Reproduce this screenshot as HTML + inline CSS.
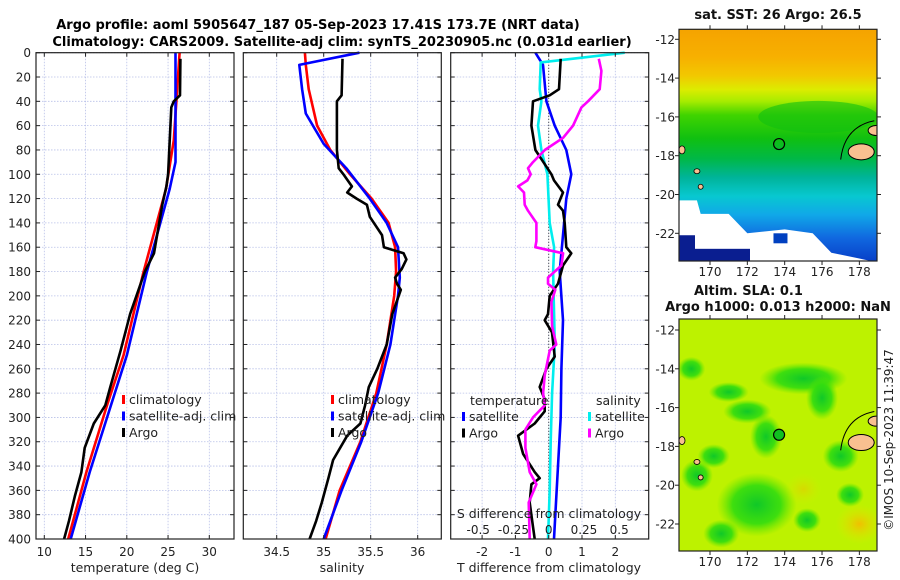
<!DOCTYPE html>
<html><head><meta charset="utf-8">
<style>
html,body{margin:0;padding:0;background:#fff;}
svg{display:block;font-family:"DejaVu Sans","Liberation Sans",sans-serif;}
</style></head>
<body>
<svg id="fig" width="900" height="580" viewBox="0 0 900 580" xmlns="http://www.w3.org/2000/svg">
<text x="318" y="29" text-anchor="middle" font-size="13" font-weight="bold">Argo profile: aoml 5905647_187 05-Sep-2023 17.41S 173.7E (NRT data)</text>
<text x="342" y="46" text-anchor="middle" font-size="13" font-weight="bold">Climatology: CARS2009. Satellite-adj clim: synTS_20230905.nc (0.031d earlier)</text>
<g id="plots"></g>
<g id="maps"></g>
<text transform="translate(893,440) rotate(-90)" text-anchor="middle" font-size="12" fill="#222">©IMOS 10-Sep-2023 11:39:47</text>
</svg>
<script>
// ---- data ----
const depthTicks=[0,20,40,60,80,100,120,140,160,180,200,220,240,260,280,300,320,340,360,380,400];
const tTicks=[10,15,20,25,30];
const sTicks=[34.5,35,35.5,36];
const dtTicks=[-2,-1,0,1,2];
const dsTicks=[-0.5,-0.25,0,0.25,0.5];
const dsTickLabels=["-0.5","-0.25","0","0.25","0.5"];

const climTDepth=[0,72,112,181,249,290,345,400];
const climTVal=[26.4,25.7,24.75,22,19.6,17.6,15.1,12.9];
const satTDepth=[0,90,112,181,249,345,400];
const satTVal=[25.9,25.9,25.2,22.4,20,15.5,13.2];
const argoTDepth=[5,35,40,45,100,110,125,165,180,215,245,275,290,305,325,345,365,385,400];
const argoTVal=[26.5,26.45,25.7,25.4,25.0,24.8,24.3,23.3,22.2,20.4,19.25,18,17.4,16,14.9,14.5,13.7,13,12.4];

const climSDepth=[0,10,30,60,80,100,120,140,160,180,200,240,280,320,360,400];
const climSVal=[34.80,34.81,34.84,34.93,35.07,35.28,35.51,35.69,35.76,35.77,35.75,35.67,35.56,35.39,35.17,35.02];
const satSDepth=[0,10,30,50,75,95,120,140,160,185,200,240,280,320,360,400];
const satSVal=[35.38,34.74,34.77,34.81,35.0,35.24,35.49,35.67,35.79,35.81,35.79,35.71,35.58,35.4,35.19,35.0];
const argoSDepth=[5,35,40,80,95,100,110,115,120,125,135,150,160,165,170,178,185,190,195,215,240,260,275,290,305,315,335,350,370,385,400];
const argoSVal=[35.2,35.19,35.14,35.14,35.16,35.21,35.3,35.25,35.35,35.46,35.49,35.62,35.64,35.85,35.88,35.83,35.76,35.78,35.82,35.73,35.67,35.57,35.48,35.44,35.39,35.25,35.1,35.05,34.98,34.92,34.85];

const satDTDepth=[0,10,40,60,80,100,120,150,180,220,260,300,340,400];
const satDTVal=[-0.4,-0.17,-0.07,0.18,0.53,0.68,0.53,0.43,0.33,0.43,0.38,0.36,0.28,0.16];
const argoDTDepth=[5,30,35,40,60,80,95,100,105,115,125,130,140,160,165,175,190,200,215,220,230,250,260,275,285,295,305,315,330,345,350,355,370,390,400];
const argoDTVal=[0.36,0.31,0.03,-0.47,-0.52,-0.4,-0.04,0.08,0.16,0.43,0.28,0.43,0.48,0.53,0.68,0.43,0.28,0.03,-0.02,-0.12,0.1,0.18,-0.07,-0.27,-0.12,-0.12,-0.42,-0.92,-0.77,-0.42,-0.27,-0.52,-0.57,-0.47,-0.42];
const satDSDepth=[0,8,30,40,60,80,100,140,160,180,240,280,320,360,400];
const satDSVal=[0.539,-0.057,-0.064,-0.052,-0.076,-0.052,-0.009,0.007,0.038,0.031,0.043,0.024,0.014,0.007,-0.005];
const argoDSDepth=[5,15,30,40,45,60,70,80,90,95,100,105,110,115,125,130,140,155,160,165,175,185,190,195,205,225,240,245,265,280,290,300,310,325,345,355,370,400];
const argoDSVal=[0.355,0.374,0.362,0.279,0.232,0.173,0.102,-0.028,-0.111,-0.147,-0.128,-0.151,-0.217,-0.175,-0.170,-0.147,-0.087,-0.087,-0.095,0.102,0.09,-0.005,-0.005,0.047,0.019,0.024,0.054,0.007,-0.028,-0.04,-0.028,-0.111,-0.165,-0.165,-0.135,-0.087,-0.142,-0.135];

const mapLonTicks=[170,172,174,176,178];
const mapLatTicks=[-12,-14,-16,-18,-20,-22];
const argoLon=173.7, argoLat=-17.4;

// ---- helpers ----
const NS="http://www.w3.org/2000/svg";
function mk(tag,attrs,parent){const e=document.createElementNS(NS,tag);for(const k in attrs)e.setAttribute(k,attrs[k]);parent.appendChild(e);return e;}
const Y0=52.7,Y1=539;
const yD=d=>Y0+d*(Y1-Y0)/400;
const xT=t=>44.3+(t-10)*8.25;
const xS=s=>276.7+(s-34.5)*94;
const xDT=v=>548.7+v*33.3;
const xDS=v=>548.7+v*141;
const plots=document.getElementById('plots');

function panel(name,x0,x1,xTicks,xf){
  const g=mk('g',{},plots);
  
  
  depthTicks.forEach(d=>{const l=mk('line',{x1:x0,x2:x1,y1:yD(d),y2:yD(d),stroke:'#b8c0e8','stroke-width':0.8,'stroke-dasharray':'1.5,1.5'},g);
    });
  xTicks.forEach(t=>{const l=mk('line',{x1:xf(t),x2:xf(t),y1:Y0,y2:Y1,stroke:'#b8c0e8','stroke-width':0.8,'stroke-dasharray':'1.5,1.5'},g);
    });
  return g;
}
function frame(g,x0,x1,xTicks,xf,labels,xlabel,xlabelX,name){
  const r=mk('rect',{x:x0,y:Y0,width:x1-x0,height:Y1-Y0,fill:'none',stroke:'#222','stroke-width':1.2},g);
  
  depthTicks.forEach(d=>{mk('line',{x1:x0,x2:x0+4,y1:yD(d),y2:yD(d),stroke:'#222'},g);mk('line',{x1:x1,x2:x1-4,y1:yD(d),y2:yD(d),stroke:'#222'},g);});
  xTicks.forEach((t,i)=>{mk('line',{x1:xf(t),x2:xf(t),y1:Y1,y2:Y1-4,stroke:'#222'},g);mk('line',{x1:xf(t),x2:xf(t),y1:Y0,y2:Y0+4,stroke:'#222'},g);
    const tx=mk('text',{x:xf(t),y:556,'text-anchor':'middle','font-size':12,fill:'#222'},g);tx.textContent=labels[i];
    });
  const xl=mk('text',{x:xlabelX,y:572,'text-anchor':'middle','font-size':12.5,fill:'#222'},g);xl.textContent=xlabel;
  
}
function line(g,depths,vals,xf,color,name){
  const pts=depths.map((d,i)=>xf(vals[i]).toFixed(1)+','+yD(d).toFixed(1)).join(' ');
  const p=mk('polyline',{points:pts,fill:'none',stroke:color,'stroke-width':2.6,'stroke-linejoin':'round'},g);
  
}
function legend(g,x,y,items){
  items.forEach((it,i)=>{
    if(it.c){const m=mk('rect',{x:x,y:y+i*16.5-9,width:3,height:9,fill:it.c},g);}
    const t=mk('text',{x:x+(it.c?7:0),y:y+i*16.5,'font-size':12.5,fill:'#222'},g);t.textContent=it.t;
    
  });
}

let g=panel('temperature',36,234,tTicks,xT);
line(g,climTDepth,climTVal,xT,'#f00','climatology-temperature-line');
line(g,satTDepth,satTVal,xT,'#00f','satellite-temperature-line');
line(g,argoTDepth,argoTVal,xT,'#000','argo-temperature-line');
legend(g,122,404,[{c:'#f00',t:'climatology'},{c:'#00f',t:'satellite-adj. clim'},{c:'#000',t:'Argo'}]);
frame(g,36,234,tTicks,xT,tTicks.map(String),'temperature (deg C)',135,'temperature');
depthTicks.forEach(d=>{const t=mk('text',{x:31,y:yD(d)+4.5,'text-anchor':'end','font-size':12,fill:'#222'},g);t.textContent=d;
  });

g=panel('salinity',243.3,441.3,sTicks,xS);
line(g,climSDepth,climSVal,xS,'#f00','climatology-salinity-line');
line(g,satSDepth,satSVal,xS,'#00f','satellite-salinity-line');
line(g,argoSDepth,argoSVal,xS,'#000','argo-salinity-line');
legend(g,331,404,[{c:'#f00',t:'climatology'},{c:'#00f',t:'satellite-adj. clim'},{c:'#000',t:'Argo'}]);
frame(g,243.3,441.3,sTicks,xS,sTicks.map(String),'salinity',342,'salinity');

g=panel('difference',450.7,648.7,dtTicks,xDT);
const zl=mk('line',{x1:xDT(0),x2:xDT(0),y1:Y0,y2:Y1,stroke:'#333','stroke-width':1,'stroke-dasharray':'1,2'},g);

line(g,satDTDepth,satDTVal,xDT,'#00f','satellite-temperature-diff-line');
line(g,satDSDepth,satDSVal,xDS,'#0ee','satellite-salinity-diff-line');
line(g,argoDTDepth,argoDTVal,xDT,'#000','argo-temperature-diff-line');
line(g,argoDSDepth,argoDSVal,xDS,'#f0f','argo-salinity-diff-line');
legend(g,470,405,[{t:'temperature'}]);
legend(g,462,421,[{c:'#00f',t:'satellite'},{c:'#000',t:'Argo'}]);
legend(g,596,405,[{t:'salinity'}]);
legend(g,588,421,[{c:'#0ee',t:'satellite'},{c:'#f0f',t:'Argo'}]);
let st=mk('text',{x:549,y:518,'text-anchor':'middle','font-size':12.5,fill:'#222'},g);st.textContent='S difference from climatology';

dsTicks.forEach((v,i)=>{const t=mk('text',{x:xDS(v),y:534,'text-anchor':'middle','font-size':12,fill:'#222'},g);t.textContent=dsTickLabels[i];
  });
frame(g,450.7,648.7,dtTicks,xDT,dtTicks.map(String),'T difference from climatology',549,'difference');

// ---- maps ----
const maps=document.getElementById('maps');
const defs=mk('defs',{},maps);
const sst=mk('linearGradient',{id:'sstg',x1:0,y1:0,x2:0,y2:1},defs);
[[0,'#f5a300'],[0.12,'#f7b000'],[0.2,'#f2c800'],[0.26,'#dcec00'],[0.31,'#a8ec00'],[0.37,'#40d400'],[0.47,'#10c010'],[0.56,'#00b848'],[0.64,'#00b49a'],[0.72,'#08c8d0'],[0.8,'#10a8e8'],[0.9,'#1068e0'],[1,'#0840c8']].forEach(s=>mk('stop',{offset:s[0],'stop-color':s[1]},sst));
const rg=mk('radialGradient',{id:'blob'},defs);
mk('stop',{offset:0,'stop-color':'#10c828'},rg);mk('stop',{offset:0.6,'stop-color':'#30dc10','stop-opacity':0.9},rg);mk('stop',{offset:1,'stop-color':'#60e400','stop-opacity':0},rg);
const rg2=mk('radialGradient',{id:'yblob'},defs);
mk('stop',{offset:0,'stop-color':'#f0c000'},rg2);mk('stop',{offset:1,'stop-color':'#e0e800','stop-opacity':0},rg2);

function drawMap(name,x0,x1,y0,y1,latRef,title,sst){
  const g=mk('g',{},maps);
  
  const lonX=lon=>710+(lon-170)*18.67;
  const latY=lat=>latRef+(-12-lat)*19.4;
  const cid=name+'-clip';
  const cp=mk('clipPath',{id:cid},defs);mk('rect',{x:x0,y:y0,width:x1-x0,height:y1-y0},cp);
  const inner=mk('g',{'clip-path':'url(#'+cid+')'},g);
  if(sst){
    mk('rect',{x:x0,y:y0,width:x1-x0,height:y1-y0,fill:'url(#sstg)'},inner);
    mk('ellipse',{cx:lonX(175.8),cy:latY(-16),rx:60,ry:16,fill:'#10c010',opacity:0.6},inner);
    mk('polygon',{points:`${x0},${latY(-20.3)} ${lonX(169.3)},${latY(-20.3)} ${lonX(169.5)},${latY(-21)} ${lonX(171)},${latY(-21)} ${lonX(172)},${latY(-22)} ${lonX(174)},${latY(-21.8)} ${lonX(175.5)},${latY(-22)} ${lonX(176.5)},${latY(-23)} ${lonX(178)},${latY(-23.3)} ${x1},${latY(-23.5)} ${x1},${y1} ${x0},${y1}`,fill:'#fff'},inner);
    mk('rect',{x:x0,y:latY(-22.1),width:16,height:y1-latY(-22.1),fill:'#0a1e90'},inner);
    mk('rect',{x:x0+16,y:latY(-22.8),width:55,height:y1-latY(-22.8),fill:'#0a1e90'},inner);
    mk('rect',{x:lonX(173.4),y:latY(-22),width:14,height:10,fill:'#0040c0'},inner);
  } else {
    mk('rect',{x:x0,y:y0,width:x1-x0,height:y1-y0,fill:'#bdf200'},inner);
    [[172.5,-21,40,32],[170.6,-22.5,18,14],[169.3,-19.5,16,16],[175,-14.5,44,16],[176,-15.5,16,22],[173,-17.5,16,22],[170.2,-18.5,16,12],[175.2,-21.8,14,12],[177,-18.5,18,16],[172,-16.2,24,12],[171,-15.2,20,10],[177.5,-20.5,14,12],[169,-14,14,12]].forEach(b=>
      mk('ellipse',{cx:lonX(b[0]),cy:latY(b[1]),rx:b[2],ry:b[3],fill:'url(#blob)'},inner));
    mk('ellipse',{cx:lonX(178),cy:latY(-22),rx:24,ry:20,fill:'url(#yblob)'},inner);
    mk('ellipse',{cx:lonX(175),cy:latY(-20.2),rx:18,ry:16,fill:'url(#yblob)',opacity:0.5},inner);
  }
  mk('ellipse',{cx:lonX(178.1),cy:latY(-17.8),rx:13,ry:8,fill:'#f8c090',stroke:'#000','stroke-width':1},inner);
  mk('ellipse',{cx:lonX(178.9),cy:latY(-16.7),rx:8,ry:5,fill:'#f8c090',stroke:'#000','stroke-width':1},inner);
  mk('path',{d:`M${lonX(177)},${latY(-18.2)} Q${lonX(177.2)},${latY(-16.5)} ${lonX(178.8)},${latY(-16.2)}`,fill:'none',stroke:'#000','stroke-width':1},inner);
  mk('ellipse',{cx:lonX(168.5),cy:latY(-17.7),rx:3,ry:4,fill:'#f8c090',stroke:'#000','stroke-width':0.8},inner);
  mk('ellipse',{cx:lonX(169.3),cy:latY(-18.8),rx:3,ry:2.5,fill:'#f8c090',stroke:'#000','stroke-width':0.8},inner);
  mk('ellipse',{cx:lonX(169.5),cy:latY(-19.6),rx:2.5,ry:2.5,fill:'#f8c090',stroke:'#000','stroke-width':0.8},inner);
  const c=mk('circle',{cx:lonX(argoLon),cy:latY(argoLat),r:5.5,fill:sst?'none':'#10c020',stroke:'#000','stroke-width':1.2},g);
  
  mk('rect',{x:x0,y:y0,width:x1-x0,height:y1-y0,fill:'none',stroke:'#222','stroke-width':1.2},g);
  mapLatTicks.forEach(lat=>{const y=latY(lat);mk('line',{x1:x0-4,x2:x0,y1:y,y2:y,stroke:'#222'},g);mk('line',{x1:x1,x2:x1+4,y1:y,y2:y,stroke:'#222'},g);
    const t=mk('text',{x:x0-4,y:y+4.5,'text-anchor':'end','font-size':12,fill:'#222'},g);t.textContent=lat;
    });
  mapLonTicks.forEach(lon=>{const x=lonX(lon);mk('line',{x1:x,x2:x,y1:y0-4,y2:y0,stroke:'#222'},g);mk('line',{x1:x,x2:x,y1:y1,y2:y1+4,stroke:'#222'},g);
    const t=mk('text',{x:x,y:y1+15,'text-anchor':'middle','font-size':12,fill:'#222'},g);t.textContent=lon;
    });
  title.forEach(tt=>{const t=mk('text',{x:tt[1],y:tt[2],'text-anchor':tt[3],'font-size':13,'font-weight':'bold',fill:'#111'},g);t.textContent=tt[0];
    });
}
drawMap('sst-map',679,877,29.3,261,39.3,[['sat. SST: 26 Argo: 26.5',778,19,'middle']],true);
drawMap('sla-map',679,877,319,551,330,[['Altim. SLA: 0.1',694,295,'start'],['Argo h1000: 0.013 h2000: NaN',778,311,'middle']],false);
</script>
</body></html>
